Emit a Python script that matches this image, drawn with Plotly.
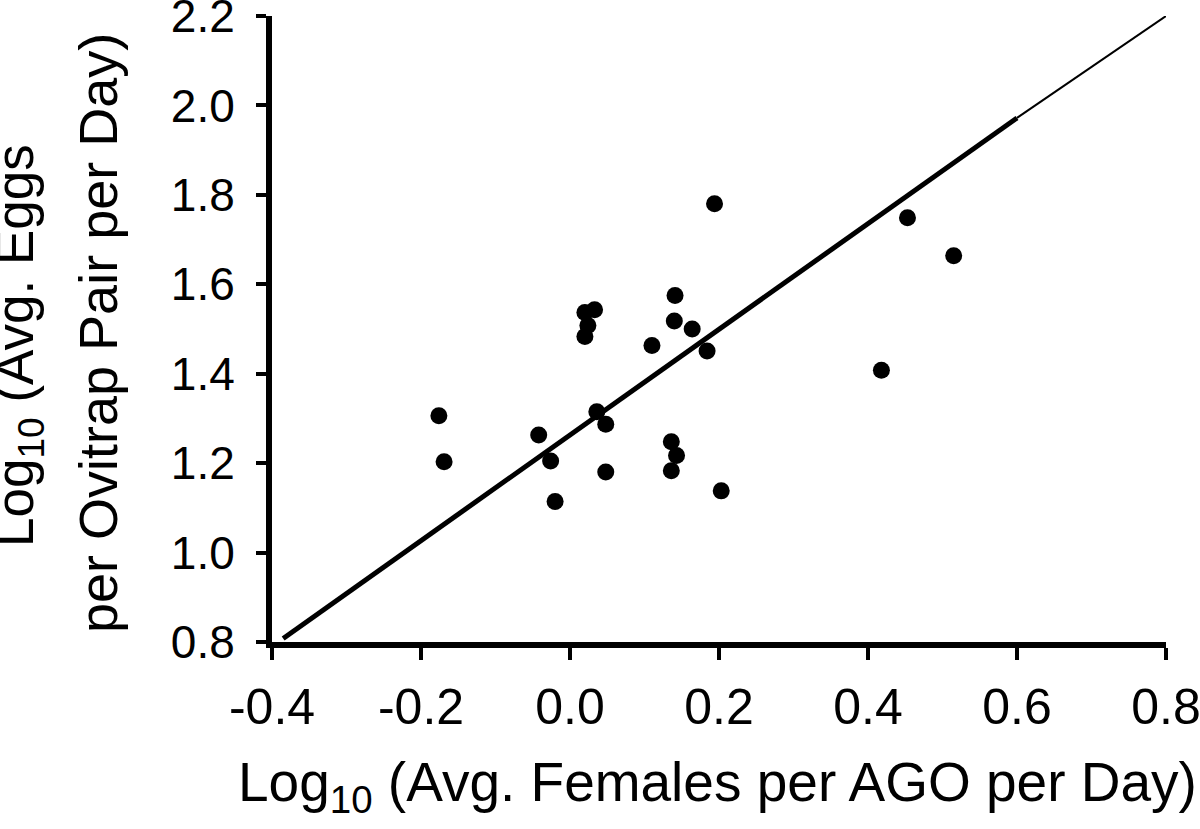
import plotly.graph_objects as go

# Data
x_vals = [0.194, 0.141, 0.020, 0.033, 0.024, 0.020, 0.140, 0.164, 0.110, 0.184,
          -0.176, -0.169, -0.042, -0.026, -0.020, 0.036, 0.048, 0.048, 0.136, 0.143,
          0.136, 0.203, 0.453, 0.515, 0.418]
y_vals = [1.780, 1.575, 1.537, 1.543, 1.508, 1.483, 1.518, 1.500, 1.463, 1.451,
          1.306, 1.203, 1.263, 1.205, 1.114, 1.315, 1.287, 1.180, 1.248, 1.217,
          1.183, 1.138, 1.749, 1.664, 1.408]

fit_x = [-0.385, 0.600]
fit_y = [0.808, 1.972]
ext_x = [0.600, 0.800]
ext_y = [1.972, 2.200]

x_ticks = [-0.4, -0.2, 0.0, 0.2, 0.4, 0.6, 0.8]
x_tick_text = ["-0.4", "-0.2", "0.0", "0.2", "0.4", "0.6", "0.8"]
y_ticks = [0.8, 1.0, 1.2, 1.4, 1.6, 1.8, 2.0, 2.2]
y_tick_text = ["0.8", "1.0", "1.2", "1.4", "1.6", "1.8", "2.0", "2.2"]

x_title = "Log<sub>10</sub> (Avg. Females per AGO per Day)"
y_title_1 = "Log<sub>10</sub> (Avg. Eggs"
y_title_2 = "per Ovitrap Pair per Day)"

FONT = "Liberation Sans, Arial, Helvetica, sans-serif"

L, R, T, B = 272, 1166, 16, 642
PW, PH = R - L, B - T

fig = go.Figure()
fig.add_trace(go.Scatter(x=ext_x, y=ext_y, mode="lines",
                         line=dict(color="black", width=2), showlegend=False,
                         cliponaxis=False))
fig.add_trace(go.Scatter(x=fit_x, y=fit_y, mode="lines",
                         line=dict(color="black", width=5), showlegend=False))
fig.add_trace(go.Scatter(x=x_vals, y=y_vals, mode="markers",
                         marker=dict(color="black", size=17), showlegend=False))

fig.update_layout(
    width=1200, height=829,
    margin=dict(l=L, r=1200 - R, t=T, b=829 - B),
    plot_bgcolor="white", paper_bgcolor="white",
    font=dict(family=FONT, color="black"),
)
fig.update_xaxes(range=[-0.4, 0.8], tickvals=x_ticks, ticktext=x_tick_text,
                 automargin=False, ticklabeloverflow="allow",
                 showgrid=False, zeroline=False, showline=True,
                 linecolor="black", linewidth=6, ticks="outside",
                 ticklen=12, tickwidth=4, tickcolor="black",
                 ticklabelstandoff=4,
                 tickfont=dict(size=50, family=FONT))
fig.update_yaxes(range=[0.8, 2.2], tickvals=y_ticks, ticktext=y_tick_text,
                 automargin=False, ticklabeloverflow="allow",
                 showgrid=False, zeroline=False, showline=True,
                 linecolor="black", linewidth=6, ticks="outside",
                 ticklen=10, tickwidth=4, tickcolor="black",
                 ticklabelstandoff=12,
                 tickfont=dict(size=46, family=FONT))

fig.add_annotation(text=x_title, xref="paper", yref="paper",
                   x=(717 - L) / PW, y=-(786 - B) / PH,
                   xanchor="center", yanchor="middle", showarrow=False,
                   font=dict(size=55, family=FONT))
fig.add_annotation(text=y_title_1, xref="paper", yref="paper",
                   x=-(L - 18) / PW, y=(B - 346) / PH, textangle=-90,
                   xanchor="center", yanchor="middle", showarrow=False,
                   font=dict(size=53, family=FONT))
fig.add_annotation(text=y_title_2, xref="paper", yref="paper",
                   x=-(L - 98) / PW, y=(B - 333) / PH, textangle=-90,
                   xanchor="center", yanchor="middle", showarrow=False,
                   font=dict(size=54, family=FONT))

fig.write_html("out.html",
               config={"displayModeBar": False},
               post_script="document.body.style.margin='0';document.body.style.padding='0';")
